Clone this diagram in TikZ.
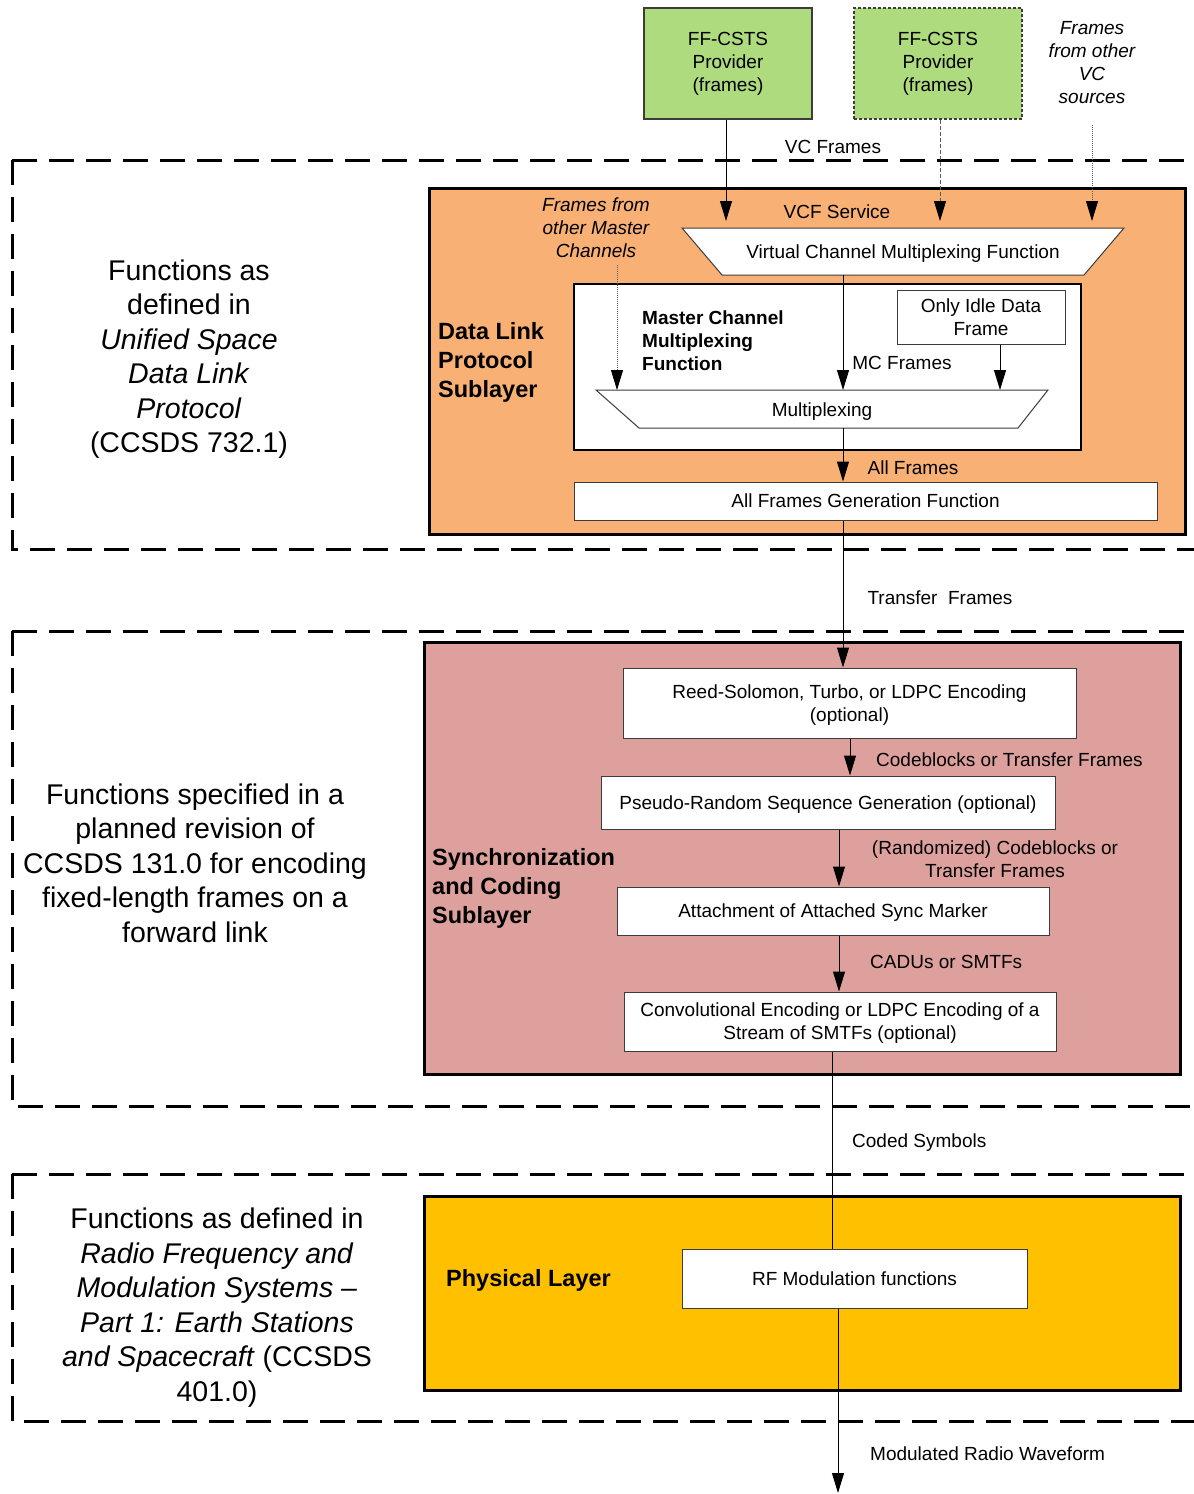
\documentclass[tikz,border=0pt]{standalone}
\usepackage{fontspec}
\setmainfont{Liberation Sans}
\usetikzlibrary{arrows.meta}
\definecolor{provgreen}{RGB}{174,219,126}
\definecolor{dlorange}{RGB}{248,176,116}
\definecolor{scpink}{RGB}{221,160,156}
\definecolor{phyyellow}{RGB}{255,192,0}
\definecolor{edgegray}{RGB}{60,60,60}

% lower a box's ink without changing its reported size
\newcommand{\nudgedown}[1]{\raisebox{-2pt}[\height][\depth]{#1}}

\tikzset{
  small/.style={font=\fontsize{19}{23}\selectfont},
  lbl/.style={small, inner sep=0pt, align=center},
  ilbl/.style={lbl, font=\fontsize{19}{23}\selectfont\itshape},
  bigtxt/.style={font=\fontsize{28.5}{34.5}\selectfont, inner sep=0pt, align=center},
  head/.style={font=\fontsize{23.5}{29}\selectfont\bfseries, inner sep=0pt, align=left},
  fbox/.style={draw=edgegray, line width=1pt, fill=white, small, align=center, inner sep=0pt},
  provbox/.style={draw=edgegray, line width=1.3pt, fill=provgreen, small, align=center,
    inner sep=0pt, minimum width=168pt, minimum height=111pt},
  arr/.style={line width=1pt, -{Triangle[length=20pt,width=12pt,color=black]}},
  optarr/.style={arr, draw=black!65, dash pattern=on 4pt off 2pt},
  dotarr/.style={arr, line width=0.8pt, draw=black!65, dash pattern=on 1pt off 1pt},
  layerline/.style={line width=3pt, dash pattern=on 25pt off 12pt},
  sublayer/.style={draw=black, line width=3pt, inner sep=0pt, anchor=north west},
}

\begin{document}
\begin{tikzpicture}[x=1pt,y=-1pt]
  \fill[white] (0,0) rectangle (1194,1494);
  \useasboundingbox (0,0) rectangle (1194,1494);

  % ---- layer boundaries ----
  \draw[layerline] (12,160) -- (1194,160);
  \draw[layerline] (12,160) -- (12,549) -- (1194,549);
  \draw[layerline] (12,631) -- (1194,631);
  \draw[layerline] (12,631) -- (12,1106) -- (1194,1106);
  \draw[layerline] (12,1174) -- (1194,1174);
  \draw[layerline] (12,1174) -- (12,1421) -- (1194,1421);

  % ---- left-hand descriptions ----
  \node[bigtxt] (refdl) at (189,359) {Functions as\\defined in\\\textit{Unified Space}\\\textit{Data Link}\\\textit{Protocol}\\(CCSDS 732.1)};
  \node[bigtxt] (refsc) at (195,863) {Functions specified in a\\planned revision of\\CCSDS 131.0 for encoding\\fixed-length frames on a\\forward link};
  \node[bigtxt] (refpl) at (217,1307.5) {Functions as defined in\\\textit{Radio Frequency and}\\\textit{Modulation Systems –}\\\textit{Part 1: Earth Stations}\\\textit{and Spacecraft} (CCSDS\\401.0)};

  % ---- providers above the stack ----
  \node[provbox] (ff1) at (728,63.5) {FF-CSTS\\Provider\\(frames)};
  \node[provbox, dash pattern=on 3pt off 2pt] (ff2) at (938,63.5) {FF-CSTS\\Provider\\(frames)};
  \node[ilbl] (othvc) at (1092,63) {Frames\\from other\\VC\\sources};
  \node[lbl] (vcframes) at (833,147) {VC Frames};

  % ---- Data Link Protocol Sublayer ----
  \node[sublayer, fill=dlorange, minimum width=756pt, minimum height=346pt] (dl) at (428,187) {};
  \node[head, anchor=west] (dlhead) at (438,362) {Data Link\\Protocol\\Sublayer};
  \node[ilbl] (othmc) at (596,228) {Frames from\\other Master\\Channels};
  \node[lbl] (vcf) at (837,212) {VCF Service};

  % virtual channel multiplexing trapezoid
  \coordinate (vcTL) at (682,228);
  \coordinate (vcTR) at (1124,228);
  \coordinate (vcBR) at (1084,275);
  \coordinate (vcBL) at (722,275);
  \draw[fill=white, draw=edgegray, line width=1pt] (vcTL) -- (vcTR) -- (vcBR) -- (vcBL) -- cycle;
  \node[lbl] (vcmf) at (903,253.5) {Virtual Channel Multiplexing Function};

  % master channel multiplexing function
  \node[draw=black, line width=2pt, fill=white, inner sep=0pt, minimum width=507pt,
        minimum height=166pt] (mcmf) at (827.5,367) {};
  \node[font=\fontsize{19}{23}\selectfont\bfseries, inner sep=0pt, align=left, anchor=west]
        (mchead) at (642,341) {Master Channel\\Multiplexing\\Function};
  \node[fbox, minimum width=168pt, minimum height=54pt] (idle) at (981,317) {Only Idle Data\\Frame};
  \node[lbl] (mcframes) at (902,363) {MC Frames};

  % multiplexing trapezoid
  \coordinate (mxTL) at (596,390);
  \coordinate (mxTR) at (1048,390);
  \coordinate (mxBR) at (1018,428);
  \coordinate (mxBL) at (639,428);
  \draw[fill=white, draw=edgegray, line width=1pt] (mxTL) -- (mxTR) -- (mxBR) -- (mxBL) -- cycle;
  \node[lbl] (mux) at (822,411.5) {Multiplexing};

  \node[lbl] (allframes) at (913,468) {All Frames};
  \node[fbox, minimum width=583pt, minimum height=38pt] (afg) at (865.5,501) {All Frames Generation Function};

  % ---- Synchronization and Coding Sublayer ----
  \node[sublayer, fill=scpink, minimum width=756pt, minimum height=432pt] (sc) at (423,641) {};
  \node[head, anchor=west] (schead) at (432,888) {Synchronization\\and Coding\\Sublayer};
  \node[lbl] (transfer) at (940,598) {Transfer\ \ Frames};
  \node[fbox, minimum width=453pt, minimum height=70pt] (rs) at (849.5,703) {\nudgedown{\begin{tabular}{@{}c@{}}Reed-Solomon, Turbo, or LDPC Encoding\\(optional)\end{tabular}}};
  \node[lbl, anchor=west] (cbtf) at (876,760) {Codeblocks or Transfer Frames};
  \node[fbox, minimum width=454pt, minimum height=53pt] (prs) at (828,802.5) {\nudgedown{Pseudo-Random Sequence Generation (optional)}};
  \node[lbl] (rcbtf) at (995,859) {(Randomized) Codeblocks or\\Transfer Frames};
  \node[fbox, minimum width=432pt, minimum height=48pt] (asm) at (833,911) {\nudgedown{Attachment of Attached Sync Marker}};
  \node[lbl, anchor=west] (cadu) at (870,962) {CADUs or SMTFs};
  \node[fbox, minimum width=432pt, minimum height=59pt] (conv) at (840,1021.5) {\nudgedown{\begin{tabular}{@{}c@{}}Convolutional Encoding or LDPC Encoding of a\\Stream of SMTFs (optional)\end{tabular}}};
  \node[lbl, anchor=west] (coded) at (852,1143) {Coded Symbols};

  % ---- Physical Layer ----
  \node[sublayer, fill=phyyellow, minimum width=756pt, minimum height=194pt] (phy) at (423,1195) {};
  \node[head, anchor=west] (phyhead) at (446,1280) {Physical Layer};
  \node[fbox, minimum width=345pt, minimum height=59pt] (rf) at (854.5,1278.5) {RF Modulation functions};
  \node[lbl, anchor=west] (waveform) at (870,1454) {Modulated Radio Waveform};

  % ---- connectors ----
  \coordinate (vcin) at (903,221);
  \coordinate (othvcsrc) at (1092,125);
  \coordinate (othmcsrc) at (617,265);
  \coordinate (vcout) at (843,275);
  \coordinate (mxout) at (843,428);
  \coordinate (rfout) at (838,1493);

  \draw[arr] ([xshift=-2pt]ff1.south) -- ([xshift=-2pt]ff1.south |- vcin);
  \draw[optarr] ([xshift=2pt]ff2.south) -- ([xshift=2pt]ff2.south |- vcin);
  \draw[dotarr] (othvcsrc) -- (othvcsrc |- vcin);

  \draw[arr] (vcout) -- (vcout |- mxTL);
  \draw[dotarr] (othmcsrc) -- (othmcsrc |- mxTL);
  \draw[arr] ([xshift=19pt]idle.south) -- ([xshift=19pt]idle.south |- mxTL);

  \draw[arr] (mxout) -- (mxout |- afg.north);
  \draw[arr] (mxout |- afg.south) -- (mxout |- rs.north);
  \draw[arr] ([xshift=0.5pt]rs.south) -- ([xshift=0.5pt]rs.south |- prs.north);
  \draw[arr] ([xshift=11pt]prs.south) -- ([xshift=11pt]prs.south |- asm.north);
  \draw[arr] ([xshift=6pt]asm.south) -- ([xshift=6pt]asm.south |- conv.north);
  \draw[line width=1pt] ([xshift=-8pt]conv.south) -- ([xshift=-8pt]conv.south |- rf.north);
  \draw[arr] (rfout |- rf.south) -- (rfout);
\end{tikzpicture}
\end{document}
